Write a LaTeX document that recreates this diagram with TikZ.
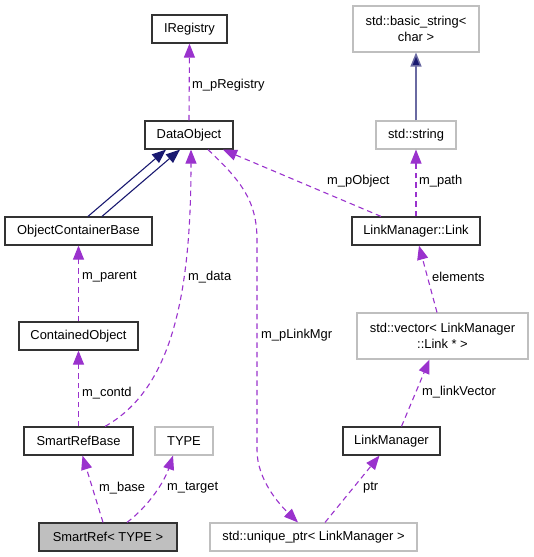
\documentclass[tikz,border=0pt]{standalone}
\usepackage{fontspec}
\setmainfont{Liberation Sans}
\usetikzlibrary{arrows.meta}
\definecolor{edgepurple}{HTML}{9A32CD}
\definecolor{navy}{HTML}{191970}
\definecolor{boxgray}{HTML}{BFBFBF}
\begin{document}
\begin{tikzpicture}[x=1pt,y=-1pt,
  every node/.style={font=\fontsize{12.9}{16}\selectfont},
  cls/.style={draw=black!80,line width=1.2pt,inner sep=0pt,align=center},
  ext/.style={draw=boxgray,line width=1.1pt,inner sep=0pt,align=center},
  usage/.style={draw=edgepurple,line width=1.1pt,dash pattern=on 5.5pt off 4pt,
    -{Triangle[length=14pt,width=11pt,fill=edgepurple]}},
  inherit/.style={draw=navy,line width=1.1pt,
    -{Triangle[length=14pt,width=11pt,fill=navy]}},
  lbl/.style={anchor=west,inner sep=0pt}]
\useasboundingbox (0,0) rectangle (533,557);
% nodes
\node[cls,minimum width=75pt,minimum height=28pt] (iregistry) at (189.5,29) {IRegistry};
\node[cls,minimum width=88pt,minimum height=28pt] (dataobject) at (189,135) {DataObject};
\node[cls,minimum width=147pt,minimum height=28pt] (ocb) at (78.5,231) {ObjectContainerBase};
\node[ext,minimum width=126pt,minimum height=46pt] (basicstring) at (416,29) {std::basic\_string<\\char >};
\node[ext,minimum width=80pt,minimum height=28pt] (stdstring) at (416,135) {std::string};
\node[cls,minimum width=128pt,minimum height=28pt] (link) at (416,231) {LinkManager::Link};
\node[cls,minimum width=119pt,minimum height=28pt] (containedobject) at (78.5,336) {ContainedObject};
\node[cls,minimum width=109pt,minimum height=28pt] (smartrefbase) at (78.5,441) {SmartRefBase};
\node[ext,minimum width=58pt,minimum height=28pt] (type) at (184,441) {TYPE};
\node[cls,fill=boxgray,minimum width=138pt,minimum height=28pt] (smartref) at (108,537) {SmartRef< TYPE >};
\node[ext,minimum width=171pt,minimum height=46pt] (vector) at (442.5,336) {std::vector< LinkManager\\::Link * >};
\node[cls,minimum width=97pt,minimum height=28pt] (linkmanager) at (391.5,441) {LinkManager};
\node[ext,minimum width=207pt,minimum height=28pt] (uniqueptr) at (313.5,537) {std::unique\_ptr< LinkManager >};
% edges
\draw[usage] (dataobject.north) -- (iregistry.south);
\node[lbl] (lregistry) at (192,85) {m\_pRegistry};
\draw[inherit] ([xshift=9.5pt]ocb.north) -- ([xshift=-23pt]dataobject.south);
\draw[inherit] ([xshift=23.5pt]ocb.north) -- ([xshift=-9pt]dataobject.south);
\draw[usage] ([xshift=26.5pt]smartrefbase.north) .. controls (170,390) and (191,300) .. ([xshift=2pt]dataobject.south);
\node[lbl] (ldata) at (188,277) {m\_data};
\draw[usage] ([xshift=19pt]dataobject.south) .. controls (240,180) and (257,200) .. (257,240)
  -- (257,450) .. controls (257,480) and (280,505) .. ([xshift=-15.5pt]uniqueptr.north);
\node[lbl] (llinkmgr) at (261,335) {m\_pLinkMgr};
\draw[usage] ([xshift=-35pt]link.north) -- ([xshift=34pt]dataobject.south);
\node[lbl] (lobject) at (327,181) {m\_pObject};
\draw[usage] (link.north) -- (stdstring.south);
\node[lbl] (lpath) at (419,181) {m\_path};
\draw[inherit,draw=navy!65,line width=1.5pt] (stdstring.north) -- (basicstring.south);
\draw[usage] ([xshift=-5.5pt]vector.north) -- ([xshift=3pt]link.south);
\node[lbl] (lelements) at (432,277) {elements};
\draw[usage] ([xshift=10pt]linkmanager.north) -- ([xshift=-13pt]vector.south);
\node[lbl] (llinkvector) at (422,392) {m\_linkVector};
\draw[usage] ([xshift=11.5pt]uniqueptr.north) -- ([xshift=-12pt]linkmanager.south);
\node[lbl] (lptr) at (363,488) {ptr};
\draw[usage] ([xshift=-5pt]smartref.north) -- ([xshift=4pt]smartrefbase.south);
\node[lbl] (lbase) at (99,488) {m\_base};
\draw[usage] ([xshift=19pt]smartref.north) .. controls (150,505) and (165,480) .. ([xshift=-11pt]type.south);
\node[lbl] (ltarget) at (167,488) {m\_target};
\draw[usage] (smartrefbase.north) -- (containedobject.south);
\node[lbl] (lcontd) at (82,393) {m\_contd};
\draw[usage] (containedobject.north) -- (ocb.south);
\node[lbl] (lparent) at (82,277) {m\_parent};
\end{tikzpicture}
\end{document}
